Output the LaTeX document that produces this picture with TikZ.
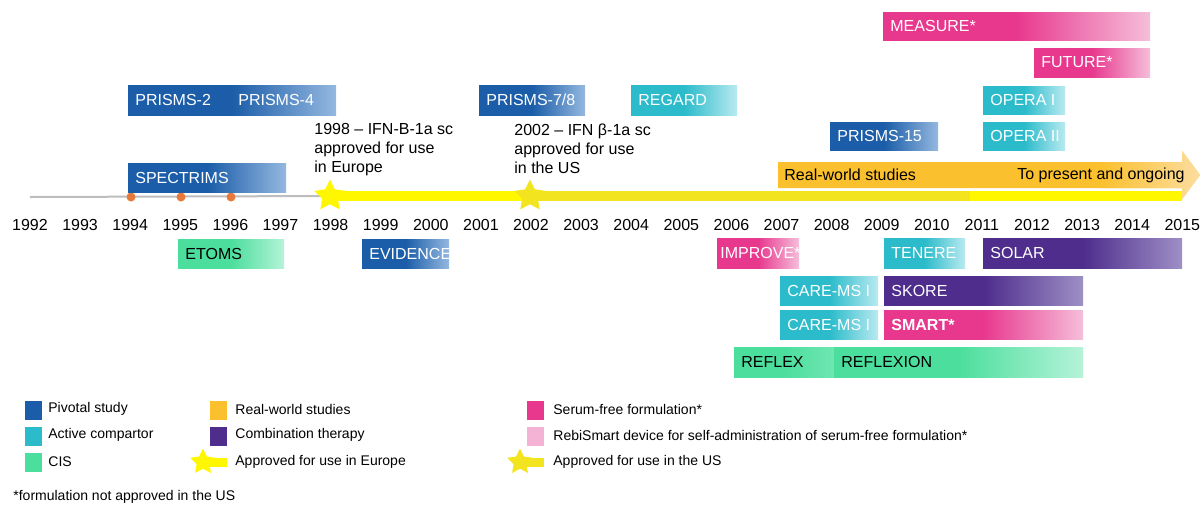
\documentclass[tikz,border=0pt]{standalone}
\usepackage{fontspec}
\setmainfont{Liberation Sans}
\usetikzlibrary{shapes.geometric}
\definecolor{cblue}{HTML}{1B5DA8}
\definecolor{cblueL}{HTML}{94B8E0}
\definecolor{cteal}{HTML}{2BBBCB}
\definecolor{ctealL}{HTML}{B8EAF0}
\definecolor{cgreen}{HTML}{4CDE9D}
\definecolor{cgreenM}{HTML}{6FE6B2}
\definecolor{cgreenL}{HTML}{B5F3D8}
\definecolor{cpink}{HTML}{E8388E}
\definecolor{cpinkL}{HTML}{F5BEDA}
\definecolor{cpurple}{HTML}{4E2D8C}
\definecolor{cpurpleL}{HTML}{9E8FC6}
\definecolor{corange}{HTML}{FBC02D}
\definecolor{corangeL}{HTML}{FCDDA0}
\definecolor{cyel}{HTML}{FFF700}
\definecolor{cyel2}{HTML}{F2E41E}
\definecolor{cdot}{HTML}{E8793A}
\definecolor{caxis}{HTML}{BDBDBD}
\definecolor{clpink}{HTML}{F4B3D4}
\tikzset{
  bar/.style={draw=none, inner sep=0pt, outer sep=0pt},
  fblue/.style={bar, left color=cblue, right color=cblueL, middle color=cblue},
  fteal/.style={bar, left color=cteal, right color=ctealL, middle color=cteal},
  fgreen/.style={bar, left color=cgreen, right color=cgreenL, middle color=cgreen},
  fgreenflat/.style={bar, left color=cgreen, right color=cgreenM, middle color=cgreen},
  fpink/.style={bar, left color=cpink, right color=cpinkL, middle color=cpink},
  fpurple/.style={bar, left color=cpurple, right color=cpurpleL, middle color=cpurple},
  wt/.style={text=white, font=\fontsize{8}{9.5}\selectfont, inner sep=0pt},
  wtb/.style={text=white, font=\fontsize{8}{9.5}\selectfont\bfseries, inner sep=0pt},
  bt/.style={text=black, font=\fontsize{8}{9.5}\selectfont, inner sep=0pt},
  yr/.style={text=black, font=\fontsize{8}{9.5}\selectfont, inner sep=0pt},
  note/.style={text=black, font=\fontsize{8}{9.5}\selectfont, inner sep=0pt, align=left, anchor=north west},
  lg/.style={text=black, font=\fontsize{7}{8.4}\selectfont, inner sep=0pt, anchor=west},
  lsq/.style={inner sep=0pt, minimum width=8.5pt, minimum height=9.5pt},
  ystar/.style={star, star points=5, star point ratio=2.0, inner sep=0pt, minimum size=16.5pt},
  lstar/.style={star, star points=5, star point ratio=2.0, inner sep=0pt, minimum size=13.5pt},
  dot/.style={circle, fill=cdot, inner sep=0pt, minimum size=4.5pt},
}
\newcommand\studybar[8]{%
  \node[#6, anchor=north west, minimum width={(#4-#2)*0.5pt}, minimum height={(#5-#3)*0.5pt}] (#1) at (#2,#3) {};
  \node[#7, anchor=west] (#1t) at ([xshift=3.5pt]#1.west) {#8};
}
\begin{document}
\begin{tikzpicture}[x=0.5pt, y=-0.5pt]
\useasboundingbox[fill=white] (0,0) rectangle (1200,505);

% axis
\coordinate (axL) at (30,197);
\coordinate (eu) at (330,196);
\coordinate (us) at (530,196);
\coordinate (yEnd) at (1182,196);
\coordinate (usEnd) at (970,196);
\draw[caxis, line width=1pt] (axL) -- (eu);
\draw[cyel, line width=5pt] (eu) -- (yEnd);
\draw[cyel2, line width=5pt] (us) -- (usEnd);
\node[dot] (d94) at (131,197) {};
\node[dot] (d95) at (181,197) {};
\node[dot] (d96) at (231,197) {};

% real-world arrow
\fill[corange] (778,162) -- (1182,162) -- (1182,151) -- (1200,175) -- (1182,199) -- (1182,188) -- (778,188) -- cycle;
\shade[left color=corange, right color=corangeL]
  (1100,162) -- (1182,162) -- (1182,151) -- (1200,175) -- (1182,199) -- (1182,188) -- (1100,188) -- cycle;
\node[bt, anchor=west] (rw1) at (784,175) {Real-world studies};
\node[bt, anchor=east] (rw2) at (1185,175) {To present and ongoing};

\node[ystar, fill=cyel] (seu) at (eu) {};
\node[ystar, fill=cyel2] (sus) at (us) {};

% years
\foreach \yy [count=\i from 0] in {1992,...,2015}
  \node[yr] (y\yy) at ({30+50.1*\i},225) {\yy};

% annotations
\node[note] (a98) at (314,123) {1998 – IFN-B-1a sc\\approved for use\\in Europe};
\node[note] (a02) at (514,123) {2002 – IFN β-1a sc\\approved for use\\in the US};

% study bars
\studybar{p24}{128}{85}{336}{115}{fblue}{wt}{PRISMS-2}
\node[wt, anchor=west] (p4t) at (238,100) {PRISMS-4};
\studybar{spec}{128}{163}{286}{192}{fblue}{wt}{SPECTRIMS}
\studybar{etoms}{178}{239}{284}{268}{fgreen}{bt}{ETOMS}
\studybar{evid}{362}{239}{449}{268}{fblue}{wt}{EVIDENCE}
\studybar{p78}{479}{85}{585}{115}{fblue}{wt}{PRISMS-7/8}
\studybar{regard}{631}{85}{737}{115}{fteal}{wt}{REGARD}
\studybar{measure}{883}{12}{1150}{40}{fpink}{wt}{MEASURE*}
\studybar{future}{1034}{48}{1150}{77}{fpink}{wt}{FUTURE*}
\studybar{opera1}{983}{86}{1065}{114}{fteal}{wt}{OPERA I}
\studybar{opera2}{983}{122}{1065}{150}{fteal}{wt}{OPERA II}
\studybar{p15}{830}{122}{938}{150}{fblue}{wt}{PRISMS-15}
\node[fpink, anchor=north west, minimum width=41pt, minimum height=15pt] (improve) at (717,238) {};
\node[wt, anchor=west] (improvet) at ([xshift=1.5pt]improve.west) {IMPROVE*};
\studybar{tenere}{884}{238}{965}{268}{fteal}{wt}{TENERE}
\studybar{solar}{983}{238}{1182}{268}{fpurple}{wt}{SOLAR}
\studybar{care1}{780}{276}{878}{305}{fteal}{wt}{CARE-MS I}
\studybar{skore}{884}{276}{1083}{305}{fpurple}{wt}{SKORE}
\studybar{care2}{780}{310}{878}{339}{fteal}{wt}{CARE-MS I}
\studybar{smart}{884}{310}{1083}{339}{fpink}{wtb}{SMART*}
\studybar{reflex}{734}{347}{834}{377}{fgreenflat}{bt}{REFLEX}
\studybar{reflexion}{834}{347}{1083}{377}{fgreen}{bt}{REFLEXION}

% legend
\node[lsq, fill=cblue] (lq1) at (33.5,410) {};
\node[lg] (lt1) at (48,409) {Pivotal study};
\node[lsq, fill=cteal] (lq2) at (33.5,436) {};
\node[lg] (lt2) at (48,435) {Active compartor};
\node[lsq, fill=cgreen] (lq3) at (33.5,462) {};
\node[lg] (lt3) at (48,462) {CIS};

\node[lsq, fill=corange] (lq4) at (218.5,410) {};
\node[lg] (lt4) at (235,409) {Real-world studies};
\node[lsq, fill=cpurple] (lq5) at (218.5,436) {};
\node[lg] (lt5) at (235,435) {Combination therapy};
\coordinate (le1) at (203,462);
\coordinate (le2) at (227,462);
\draw[cyel, line width=4.5pt] (le1) -- (le2);
\node[lstar, fill=cyel] (ls1) at (le1) {};
\node[lg] (lt6) at (235,462) {Approved for use in Europe};

\node[lsq, fill=cpink] (lq7) at (535.5,410) {};
\node[lg] (lt7) at (553,409) {Serum-free formulation*};
\node[lsq, fill=clpink] (lq8) at (535.5,436) {};
\node[lg] (lt8) at (553,435) {RebiSmart device for self-administration of serum-free formulation*};
\coordinate (lu1) at (520,462);
\coordinate (lu2) at (544,462);
\draw[cyel2, line width=4.5pt] (lu1) -- (lu2);
\node[lstar, fill=cyel2] (ls2) at (lu1) {};
\node[lg] (lt9) at (553,462) {Approved for use in the US};

\node[lg] (foot) at (13,497) {*formulation not approved in the US};
\end{tikzpicture}
\end{document}
